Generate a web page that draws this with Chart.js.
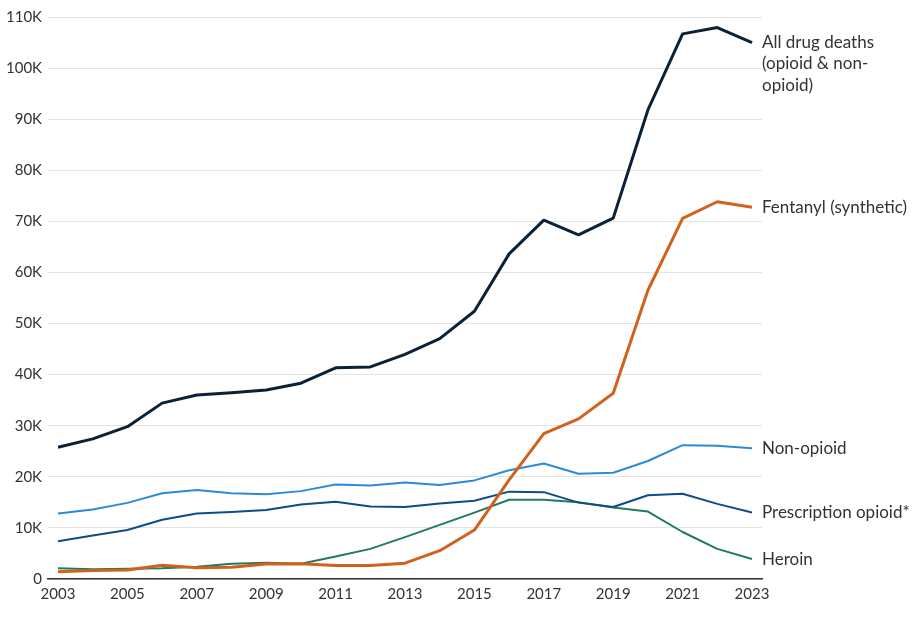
<!DOCTYPE html>
<html>
<head>
<meta charset="utf-8">
<script src="https://cdn.jsdelivr.net/npm/chart.js@4"></script>
<style>
  html, body { margin: 0; padding: 0; background: #fff; }
  #wrap { width: 923px; height: 618px; position: relative; }
</style>
</head>
<body>
<div id="wrap"><canvas id="c"></canvas></div>
<script>
const years = [2003,2004,2005,2006,2007,2008,2009,2010,2011,2012,2013,2014,2015,2016,2017,2018,2019,2020,2021,2022,2023];
const xTickYears = [2003,2005,2007,2009,2011,2013,2015,2017,2019,2021,2023];
const yTicks = [0,10000,20000,30000,40000,50000,60000,70000,80000,90000,100000,110000];

const allDrugDeaths = [25785,27424,29813,34425,36010,36450,37004,38329,41340,41502,43982,47055,52404,63632,70237,67367,70630,91799,106699,107941,105007];
const fentanyl = [1400,1664,1742,2707,2213,2306,2946,3007,2666,2628,3105,5544,9580,19413,28466,31335,36359,56516,70601,73838,72776];
const nonOpioid = [12800,13600,14900,16800,17400,16800,16600,17200,18500,18300,18900,18400,19300,21300,22600,20600,20800,23100,26200,26100,25600];
const prescriptionOpioid = [7400,8500,9600,11600,12800,13100,13500,14600,15100,14200,14100,14800,15300,17100,17000,14950,14100,16400,16700,14700,13000];
const heroin = [2100,1900,2000,2100,2400,3000,3200,3000,4400,5900,8200,10600,13000,15500,15500,15000,14000,13200,9200,5900,3900];

const seriesLabels = [
  ["All drug deaths", "(opioid & non-", "opioid)"],
  ["Fentanyl (synthetic)"],
  ["Non-opioid"],
  ["Prescription opioid*"],
  ["Heroin"]
];

function pts(arr) { return years.map((y, i) => ({ x: y, y: arr[i] })); }

const FONT = "Lato, 'Noto Sans', sans-serif";

const endLabels = {
  id: 'endLabels',
  afterDatasetsDraw(chart) {
    const ctx = chart.ctx;
    const area = chart.chartArea;
    ctx.save();
    ctx.font = "17px " + FONT;
    ctx.fillStyle = "#333333";
    ctx.textBaseline = "middle";
    ctx.textAlign = "left";
    chart.data.datasets.forEach((ds, i) => {
      const meta = chart.getDatasetMeta(i);
      const last = meta.data[meta.data.length - 1];
      const lines = seriesLabels[i];
      lines.forEach((t, k) => {
        ctx.fillText(t, area.right, last.y + k * 21.5);
      });
    });
    ctx.restore();
  }
};

new Chart(document.getElementById('c'), {
  type: 'line',
  data: {
    datasets: [
      { data: pts(allDrugDeaths), borderColor: '#0b2136', borderWidth: 3 },
      { data: pts(fentanyl), borderColor: '#d0621d', borderWidth: 3 },
      { data: pts(nonOpioid), borderColor: '#2d8ad8', borderWidth: 2 },
      { data: pts(prescriptionOpioid), borderColor: '#0c4c8a', borderWidth: 2 },
      { data: pts(heroin), borderColor: '#237a5d', borderWidth: 2 }
    ]
  },
  options: {
    responsive: true,
    maintainAspectRatio: false,
    animation: false,
    layout: { padding: { left: 0, right: 161, top: 17, bottom: 9 } },
    elements: { point: { radius: 0 }, line: { tension: 0, borderJoinStyle: 'round', borderCapStyle: 'butt' } },
    plugins: { legend: { display: false }, tooltip: { enabled: false } },
    scales: {
      x: {
        type: 'linear',
        min: 2003 - 10 / 34.75,
        max: 2023 + 10 / 34.75,
        afterBuildTicks(scale) { scale.ticks = xTickYears.map(v => ({ value: v })); },
        grid: { display: false, drawTicks: false },
        border: { display: true, color: '#333333', width: 1.5 },
        ticks: {
          color: '#333333',
          font: { size: 15, family: FONT },
          padding: 6,
          maxRotation: 0,
          autoSkip: false,
          callback: v => String(v)
        }
      },
      y: {
        min: 0,
        max: 110000,
        afterBuildTicks(scale) { scale.ticks = yTicks.map(v => ({ value: v })); },
        grid: { color: '#e3e3e3', lineWidth: 1, drawTicks: false },
        border: { display: false },
        ticks: {
          color: '#333333',
          font: { size: 15, family: FONT },
          padding: 6,
          callback: v => v === 0 ? '0' : (v / 1000) + 'K'
        }
      }
    }
  },
  plugins: [endLabels]
});
</script>
</body>
</html>
